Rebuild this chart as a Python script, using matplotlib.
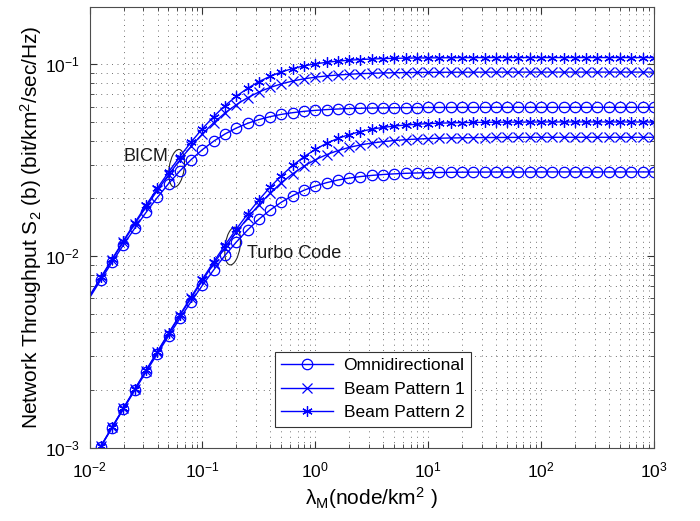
import numpy as np
import matplotlib.pyplot as plt
from matplotlib.patches import Ellipse
from matplotlib.transforms import ScaledTranslation

plt.rcParams['font.family'] = ['Liberation Sans', 'DejaVu Sans']
plt.rcParams['mathtext.fontset'] = 'custom'
plt.rcParams['mathtext.rm'] = 'Liberation Sans'
plt.rcParams['mathtext.it'] = 'Liberation Sans:italic'

# node density grid, 10 points per decade
lam = np.logspace(-2, 3, 51)

bicm_omni = [0.006052, 0.007516, 0.009294, 0.01143, 0.01395, 0.01688, 0.02020, 0.02387, 0.02779, 0.03185,
             0.03592, 0.03977, 0.04335, 0.04654, 0.04925, 0.05153, 0.05339, 0.05488, 0.05600, 0.05690,
             0.05757, 0.05811, 0.05853, 0.05883, 0.05906, 0.05922, 0.05934, 0.05944, 0.05951, 0.05956,
             0.05960, 0.05963, 0.05965, 0.05966, 0.05967, 0.05968, 0.05969, 0.05969, 0.05970, 0.05970,
             0.05970, 0.05970, 0.05970, 0.05970, 0.05970, 0.05970, 0.05970, 0.05970, 0.05970, 0.05970, 0.05970]
bicm_bp1 = [0.006159, 0.007689, 0.009572, 0.01188, 0.01468, 0.01803, 0.02198, 0.02655, 0.03171, 0.03738,
            0.04341, 0.04964, 0.05581, 0.06163, 0.06702, 0.07178, 0.07581, 0.07918, 0.08195, 0.08411,
            0.08577, 0.08710, 0.08808, 0.08888, 0.08949, 0.08993, 0.09028, 0.09051, 0.09068, 0.09082,
            0.09093, 0.09099, 0.09105, 0.09109, 0.09112, 0.09114, 0.09116, 0.09117, 0.09118, 0.09119,
            0.09120, 0.09120, 0.09120, 0.09120, 0.09120, 0.09120, 0.09120, 0.09120, 0.09120, 0.09120, 0.09120]
bicm_bp2 = [0.006190, 0.007740, 0.009654, 0.01201, 0.01490, 0.01839, 0.02255, 0.02742, 0.03304, 0.03936,
            0.04622, 0.05348, 0.06094, 0.06820, 0.07501, 0.08128, 0.08676, 0.09137, 0.09519, 0.09831,
            0.1007, 0.1026, 0.1041, 0.1052, 0.1061, 0.1067, 0.1073, 0.1076, 0.1079, 0.1081,
            0.1082, 0.1083, 0.1084, 0.1085, 0.1085, 0.1086, 0.1086, 0.1086, 0.1086, 0.1086,
            0.1086, 0.1086, 0.1086, 0.1086, 0.1086, 0.1086, 0.1086, 0.1086, 0.1086, 0.1086, 0.1086]

turbo_omni = [0.000806, 0.001012, 0.001270, 0.001591, 0.001988, 0.002480, 0.003085, 0.003824, 0.004720, 0.005784,
              0.007030, 0.008464, 0.01007, 0.01182, 0.01366, 0.01555, 0.01738, 0.01910, 0.02067, 0.02204,
              0.02319, 0.02414, 0.02492, 0.02551, 0.02598, 0.02634, 0.02663, 0.02684, 0.02701, 0.02713,
              0.02723, 0.02729, 0.02734, 0.02738, 0.02740, 0.02742, 0.02744, 0.02745, 0.02745, 0.02746,
              0.02747, 0.02747, 0.02747, 0.02747, 0.02747, 0.02747, 0.02747, 0.02747, 0.02747, 0.02747, 0.02747]
turbo_bp1 = [0.000809, 0.001017, 0.001278, 0.001604, 0.002011, 0.002518, 0.003147, 0.003925, 0.004879, 0.006040,
             0.007447, 0.009117, 0.01106, 0.01329, 0.01579, 0.01850, 0.02128, 0.02416, 0.02689, 0.02946,
             0.03179, 0.03381, 0.03549, 0.03689, 0.03801, 0.03886, 0.03954, 0.04006, 0.04046, 0.04078,
             0.04102, 0.04119, 0.04132, 0.04140, 0.04148, 0.04153, 0.04157, 0.04160, 0.04162, 0.04163,
             0.04166, 0.04166, 0.04166, 0.04166, 0.04166, 0.04166, 0.04166, 0.04166, 0.04166, 0.04166, 0.04166]
turbo_bp2 = [0.000810, 0.001018, 0.001280, 0.001608, 0.002017, 0.002529, 0.003166, 0.003954, 0.004928, 0.006124,
             0.007575, 0.009331, 0.01140, 0.01381, 0.01656, 0.01961, 0.02287, 0.02629, 0.02972, 0.03296,
             0.03600, 0.03875, 0.04108, 0.04303, 0.04464, 0.04593, 0.04689, 0.04767, 0.04826, 0.04873,
             0.04909, 0.04936, 0.04955, 0.04970, 0.04980, 0.04988, 0.04994, 0.04998, 0.05002, 0.05004,
             0.05010, 0.05010, 0.05010, 0.05010, 0.05010, 0.05010, 0.05010, 0.05010, 0.05010, 0.05010, 0.05010]

series = [
    ('Omnidirectional', 'o', bicm_omni, turbo_omni),
    ('Beam Pattern 1', 'x', bicm_bp1, turbo_bp1),
    ('Beam Pattern 2', (6, 2, 0), bicm_bp2, turbo_bp2),
]

fig = plt.figure(figsize=(7, 5.21), dpi=100)
ax = fig.add_axes([0.128, 0.141, 0.806, 0.846])

for label, marker, bicm, turbo in series:
    style = dict(color='b', lw=1.0, marker=marker, ms=7.5, mfc='none', mew=0.9,
                 markevery=slice(1, None))
    ax.plot(lam, bicm, label=label, **style)
    ax.plot(lam, turbo, **style)

ax.set_xscale('log')
ax.set_yscale('log')
ax.set_xlim(1e-2, 1e3)
ax.set_ylim(1e-3, 0.2)

ax.grid(True, which='both', color='0.25', lw=0.6, ls=(0, (1, 5.5)))
ax.tick_params(which='both', direction='in', top=True, right=True, labelsize=12.5, color='0.2')
ax.tick_params(which='major', length=5)
ax.tick_params(which='minor', length=3)
ax.tick_params(axis='x', pad=9)
ax.tick_params(axis='y', pad=7)
for sp in ax.spines.values():
    sp.set_color('0.3')

ax.set_xlabel('λ$_\\mathrm{M}$(node/km$^2$ )', fontsize=15, labelpad=4)
ax.set_ylabel('Network Throughput S$_2$ (b) (bit/km$^2$/sec/Hz)', fontsize=15, labelpad=1)

# group markers for the two coding schemes
for (x, y, ang) in [(0.0591, 0.0287, -8), (0.185, 0.01127, -8)]:
    e = Ellipse((0, 0), 0.15, 0.38, angle=ang, fill=False, ec='0.15', lw=0.8,
                transform=fig.dpi_scale_trans + ScaledTranslation(x, y, ax.transData))
    ax.add_patch(e)
ax.text(0.0496, 0.0332, 'BICM', ha='right', va='center', fontsize=13, color='0.1')
ax.text(0.246, 0.01028, 'Turbo Code', ha='left', va='center', fontsize=13, color='0.1')

leg = ax.legend(loc='lower left', bbox_to_anchor=(0.3286, 0.0477), borderaxespad=0,
                fontsize=12.5, fancybox=False, framealpha=1, edgecolor='0.2',
                handlelength=3.0, handletextpad=0.6, borderpad=0.35)
leg.get_frame().set_linewidth(0.8)

fig.savefig('out.png', dpi=100)
